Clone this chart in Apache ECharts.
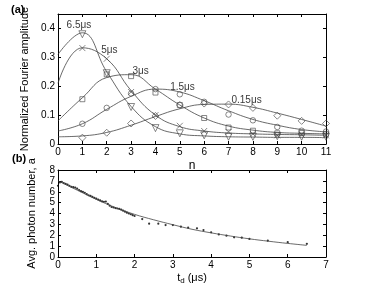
<!DOCTYPE html>
<html><head><meta charset="utf-8">
<script src="https://cdn.jsdelivr.net/npm/echarts@6/dist/echarts.min.js"></script>
<style>html,body{margin:0;padding:0;background:#fff}#c{width:384px;height:288px}</style>
</head><body><div id="c"></div>
<script>
// ---- panel (a) data ----
const nFit = [0,1,2,3,4,5,6,7,8,9,10,11];
const nMeas = [1,2,3,4,5,6,7,8,9,10,11];
const fit65 = [0.31,0.385,0.25,0.13,0.06,0.035,0.028,0.025,0.024,0.023,0.023,0.022];
const fit5  = [0.21,0.333,0.295,0.185,0.10,0.06,0.045,0.038,0.035,0.033,0.032,0.03];
const fit3  = [0.08,0.16,0.23,0.24,0.19,0.135,0.09,0.062,0.048,0.04,0.037,0.035];
const fit15 = [0.045,0.07,0.12,0.165,0.19,0.18,0.15,0.115,0.085,0.065,0.05,0.042];
const fit015= [0.025,0.028,0.04,0.065,0.095,0.122,0.137,0.138,0.127,0.107,0.085,0.062];
const meas65 = [0.38,0.245,0.128,0.055,0.037,0.03,0.025,0.025,0.027,0.025,0.025];
const meas5  = [0.332,0.295,0.18,0.1,0.063,0.045,0.042,0.035,0.03,0.032,0.03];
const meas3  = [0.155,0.241,0.235,0.178,0.135,0.09,0.057,0.046,0.037,0.038,0.035];
const meas15 = [0.07,0.125,0.175,0.19,0.172,0.146,0.102,0.082,0.059,0.046,0.043];
const meas015= [0.022,0.039,0.071,0.097,0.135,0.14,0.137,0.125,0.098,0.08,0.071];
const curveLabels = ['6.5μs','5μs','3μs','1.5μs','0.15μs'];
const labelN = [0.86,2.11,3.39,5.11,7.74];
const labelV = [0.412,0.325,0.251,0.198,0.152];
// ---- panel (b) data ----
const tdFit = [0,0.5,1,1.5,2,2.5,3,3.5,4,4.5,5,5.5,6,6.5];
const aFit  = [7.0,6.15,5.3,4.55,3.92,3.42,2.97,2.55,2.22,1.93,1.67,1.45,1.25,1.07];
const tdMeas = [0,0.05,0.1,0.15,0.2,0.25,0.3,0.35,0.4,0.45,0.5,0.55,0.6,0.65,0.7,0.75,0.8,0.85,0.9,0.95,1.0,1.05,1.1,1.15,1.2,1.25,1.3,1.35,1.4,1.45,1.5,1.55,1.6,1.65,1.7,1.75,1.8,1.85,1.9,1.95,2.0,2.2,2.38,2.62,2.81,3.0,3.21,3.4,3.63,3.8,4.0,4.2,4.4,4.6,4.8,5.0,5.48,6.0,6.5];
const aMeas  = [6.55,6.85,6.9,6.8,6.72,6.65,6.55,6.45,6.42,6.38,6.28,6.15,6.05,5.98,5.9,5.78,5.68,5.62,5.52,5.44,5.36,5.28,5.2,5.12,5.08,5.1,4.88,4.72,4.6,4.55,4.5,4.46,4.42,4.35,4.26,4.17,4.08,4.0,3.93,3.85,3.77,3.49,3.06,3.06,2.94,2.94,2.79,2.7,2.64,2.48,2.27,2.08,1.96,1.81,1.78,1.66,1.5,1.36,1.21];

const FONT = 'Liberation Sans';
const zip = (xs, ys) => xs.map((x,i)=>[x, ys[i]]);
const chart = echarts.init(document.getElementById('c'), null, {renderer:'canvas'});

function mainX(grid, min, max, name, nameGap, nameObj) {
  return {type:'value', gridIndex:grid, min, max, interval:1, position:'bottom',
    name, nameLocation:'middle', nameGap, nameTextStyle: nameObj,
    axisLine:{show:true, onZero:false, lineStyle:{color:'#000', width:1}},
    axisTick:{show:true, inside:true, length:3, lineStyle:{color:'#000'}},
    axisLabel:{color:'#000', fontSize:10, fontFamily:FONT, margin:3},
    splitLine:{show:false}};
}
function mirrorX(grid, min, max) {
  return {type:'value', gridIndex:grid, min, max, interval:1, position:'top',
    axisLine:{show:true, onZero:false, lineStyle:{color:'#000', width:1}},
    axisTick:{show:true, inside:true, length:3, lineStyle:{color:'#000'}},
    axisLabel:{show:false}, splitLine:{show:false}};
}
function mainY(grid, min, max, interval, name, fmt) {
  return {type:'value', gridIndex:grid, min, max, interval, position:'left',
    name, nameLocation:'middle', nameGap:21, nameRotate:90,
    nameTextStyle:{color:'#000', fontSize:11, fontFamily:FONT, verticalAlign:'bottom'},
    axisLine:{show:true, onZero:false, lineStyle:{color:'#000', width:1}},
    axisTick:{show:true, inside:true, length:3, lineStyle:{color:'#000'}},
    axisLabel:{color:'#000', fontSize:10, fontFamily:FONT, margin:3, showMaxLabel:true, formatter:fmt},
    splitLine:{show:false}};
}
function mirrorY(grid, min, max, interval) {
  return {type:'value', gridIndex:grid, min, max, interval, position:'right',
    axisLine:{show:true, onZero:false, lineStyle:{color:'#000', width:1}},
    axisTick:{show:true, inside:true, length:3, lineStyle:{color:'#000'}},
    axisLabel:{show:false}, splitLine:{show:false}};
}

const lineStyle = {color:'#444', width:0.8};
function fitSeries(ys) {
  return {type:'line', xAxisIndex:0, yAxisIndex:0, data:zip(nFit, ys), smooth:0.45,
    showSymbol:false, symbol:'none', lineStyle, z:2, silent:true};
}
function measSeries(ys, symbol, size, rotate) {
  return {type:'scatter', xAxisIndex:0, yAxisIndex:0, data:zip(nMeas, ys), symbol, symbolSize:size,
    symbolRotate: rotate || 0,
    itemStyle:{color:'none', borderColor:'#444', borderWidth:0.8}, z:3, silent:true};
}
const xPath = 'path://M0,0L10,10M10,0L0,10';

const option = {
  animation:false,
  backgroundColor:'#fff',
  grid:[
    {left:58, top:14, width:268, height:130},
    {left:58, top:170, width:268, height:87}
  ],
  xAxis:[
    mainX(0, 0, 11, 'n', 16, {color:'#000', fontSize:12, fontFamily:FONT}),
    mirrorX(0, 0, 11),
    mainX(1, 0, 7, '{t|t}{d|d}{t| (μs)}', 14, {rich:{t:{color:'#000', fontSize:11, fontFamily:FONT}, d:{color:'#000', fontSize:8, fontFamily:FONT, padding:[6,0,0,0]}}}),
    mirrorX(1, 0, 7)
  ],
  yAxis:[
    mainY(0, 0, 0.45, 0.1, 'Normalized Fourier amplitude', v => (Math.abs(v*10 - Math.round(v*10))<1e-6 && v<0.441) ? (v===0?'0':v.toFixed(1)) : ''),
    mirrorY(0, 0, 0.45, 0.1),
    mainY(1, 0, 8, 1, 'Avg. photon number, a', v => String(v)),
    mirrorY(1, 0, 8, 1)
  ],
  series:[
    fitSeries(fit65), fitSeries(fit5), fitSeries(fit3), fitSeries(fit15), fitSeries(fit015),
    measSeries(meas65, 'triangle', 7, 180),
    measSeries(meas5, xPath, 6),
    measSeries(meas3, 'rect', 5),
    measSeries(meas15, 'circle', 5.5),
    measSeries(meas015, 'diamond', 7),
    {type:'scatter', xAxisIndex:0, yAxisIndex:0, symbolSize:0, silent:true, z:5,
      data: curveLabels.map((t,i)=>({value:[labelN[i], labelV[i]], name:t})),
      label:{show:true, position:'inside', formatter:p=>p.name, color:'#000', fontSize:10, fontFamily:FONT}},
    {type:'line', xAxisIndex:2, yAxisIndex:2, data:zip(tdFit, aFit), smooth:0.4, symbol:'none', showSymbol:false,
      lineStyle:{color:'#444', width:0.8}, silent:true},
    {type:'scatter', xAxisIndex:2, yAxisIndex:2, data:zip(tdMeas, aMeas), symbol:'circle', symbolSize:2.2,
      itemStyle:{color:'#000'}, silent:true}
  ],
  graphic:[
    {type:'text', left:11, top:4, style:{text:'(a)', font:'bold 11px "Liberation Sans"', fill:'#000'}},
    {type:'text', left:12, top:153, style:{text:'(b)', font:'bold 11px "Liberation Sans"', fill:'#000'}}
  ]
};
chart.setOption(option);
</script></body></html>
